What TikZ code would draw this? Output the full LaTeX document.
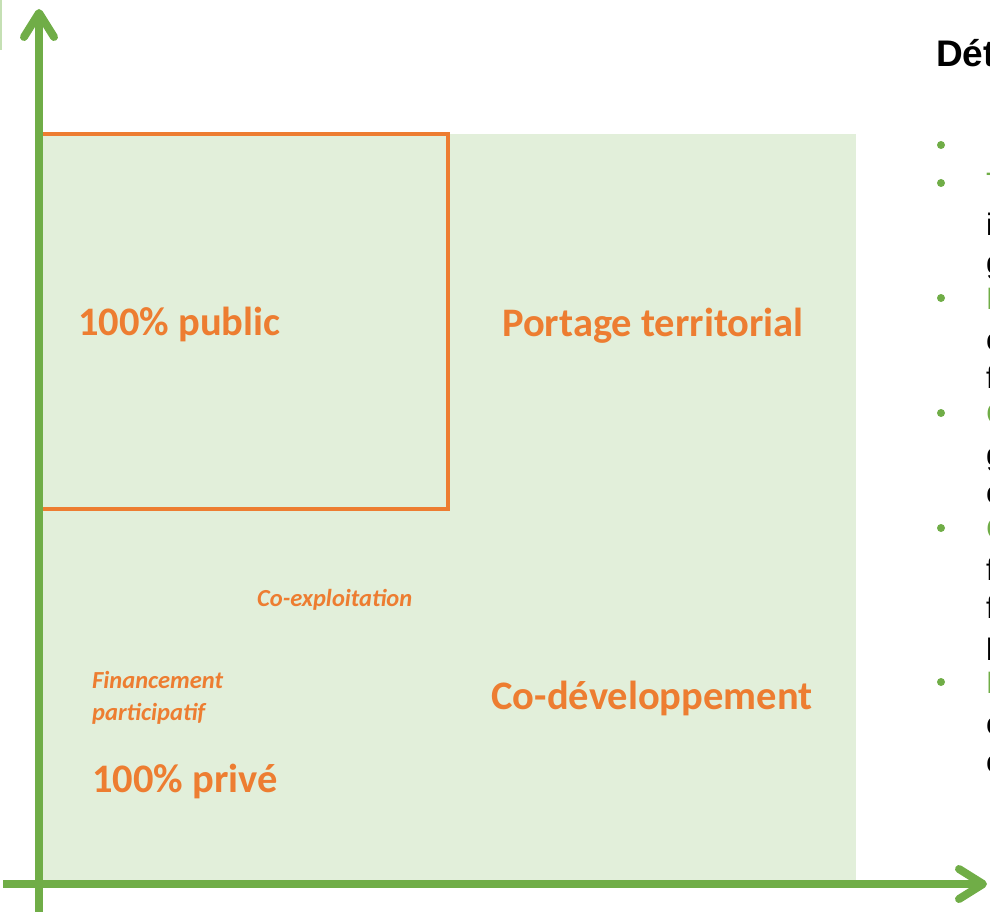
\documentclass[tikz,border=0pt]{standalone}
\usepackage{fontspec}
\setmainfont{Carlito}
\newfontfamily\arialfont{Liberation Sans}
\usetikzlibrary{arrows.meta}
\definecolor{axisgreen}{HTML}{70AD47}
\definecolor{zonegreen}{HTML}{E2EFDA}
\definecolor{stripgreen}{HTML}{C5E0B4}
\definecolor{labelorange}{HTML}{ED7D31}

\begin{document}
\begin{tikzpicture}[x=1pt,y=-1pt,
  axis/.style={axisgreen, line width=8pt, -{Straight Barb[length=24pt,width=30pt,round]}},
  biglabel/.style={labelorange, font=\bfseries\fontsize{40.5}{44}\selectfont, inner sep=0pt, anchor=base},
  smalllabel/.style={labelorange, font=\bfseries\itshape\fontsize{24.5}{32}\selectfont, inner sep=0pt, anchor=base west, align=left},
  puce/.style={circle, fill=axisgreen, minimum size=8pt, inner sep=0pt},
  ligne/.style={font=\arialfont\fontsize{31}{38}\selectfont, inner sep=0pt, anchor=base west}]
\useasboundingbox (0,0) rectangle (990,912);
\begin{scope}
\clip (0,0) rectangle (990,912);

% zones
\fill[stripgreen] (0,0) rectangle (2,50);
\fill[zonegreen] (39,134) rectangle (856,880);
\draw[labelorange, line width=4pt] (41,134) rectangle (448,509);

% axes
\coordinate (ybas) at (39,912);
\coordinate (yhaut) at (39,9);
\coordinate (xgauche) at (3,884);
\coordinate (xdroite) at (987,884);
\draw[axis] (ybas) -- (yhaut);
\draw[axis] (xgauche) -- (xdroite);

% labels
\node[biglabel, anchor=base west] (public) at (78,335) {100\% public};
\node[biglabel] (portage) at (653,336) {Portage territorial};
\node[biglabel] (codev) at (652,709) {Co-développement};
\node[biglabel, anchor=base west] (prive) at (92,792) {100\% privé};
\node[smalllabel] (coexpl) at (257,606) {Co-exploitation};
\node[smalllabel] (finpart) at (92,720) {Financement\\participatif};

% definitions
\node[font=\arialfont\bfseries\fontsize{37}{42}\selectfont, inner sep=0pt, anchor=base west] (titre) at (936,67) {Détails};
\foreach \y/\n in {145/1, 183/2, 298/3, 413/4, 528/5, 682/6}
  \node[puce] (puce\n) at (941,\y) {};
\node[ligne] (l21) at (986,194) {\textcolor{axisgreen}{Tiers-financement} :};
\node[ligne] (l22) at (986,235) {investissement};
\node[ligne] (l23) at (986,273) {gestion};
\node[ligne] (l31) at (986,309) {\textcolor{axisgreen}{Portage territorial} :};
\node[ligne] (l32) at (986,350) {collectivités};
\node[ligne] (l33) at (986,388) {financent};
\node[ligne] (l41) at (986,424) {\textcolor{axisgreen}{Co-développement} :};
\node[ligne] (l42) at (986,465) {gouvernance};
\node[ligne] (l43) at (986,503) {citoyenne};
\node[ligne] (l51) at (986,539) {\textcolor{axisgreen}{Co-exploitation} :};
\node[ligne] (l52) at (986,580) {fonctionnement};
\node[ligne] (l53) at (986,618) {financier};
\node[ligne] (l54) at (986,660) {local};
\node[ligne] (l61) at (986,693) {\textcolor{axisgreen}{Financement participatif} :};
\node[ligne] (l62) at (986,734) {citoyens};
\node[ligne] (l63) at (986,772) {collecte};
\end{scope}
\end{tikzpicture}
\end{document}
